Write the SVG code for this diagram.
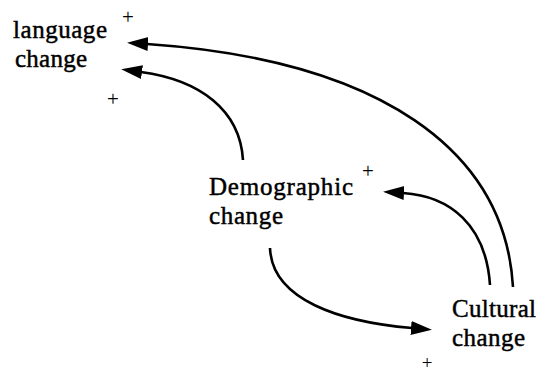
<svg xmlns="http://www.w3.org/2000/svg" width="537" height="374" viewBox="0 0 537 374">
<defs>
<style>
.lbl{font-family:"Liberation Serif","DejaVu Serif","Times New Roman",serif;font-size:25px;fill:#000;stroke:#000;stroke-width:0.45;}
.pl{font-family:"Liberation Serif","DejaVu Serif","Times New Roman",serif;font-size:21px;fill:#000;text-anchor:middle;}
.c{fill:none;stroke:#000;stroke-width:2.6;}
</style>
<marker id="ah" markerUnits="userSpaceOnUse" markerWidth="24" markerHeight="18" viewBox="0 -9 24 18" refX="1" refY="0" orient="auto">
<path d="M0,-7 L21,0 L0,7 Z" fill="#000"/>
</marker>
</defs>
<rect width="537" height="374" fill="#fff"/>
<g id="connectors">
<path class="c" d="M513,287 C505,150 380,60 147,44" marker-end="url(#ah)"/>
<path class="c" d="M243,160 C240,110 200,80 141,72" marker-end="url(#ah)"/>
<path class="c" d="M490,285 C486,225 450,196 403,193" marker-end="url(#ah)"/>
<path class="c" d="M270,248 C272,300 340,322 412,328" marker-end="url(#ah)"/>
</g>
<g id="language">
<text class="lbl" x="13" y="38" textLength="94" lengthAdjust="spacing">language</text>
<text class="lbl" x="15" y="67" textLength="72" lengthAdjust="spacing">change</text>
</g>
<g id="demographic">
<text class="lbl" x="209" y="195" textLength="144" lengthAdjust="spacing">Demographic</text>
<text class="lbl" x="209" y="224" textLength="74" lengthAdjust="spacing">change</text>
</g>
<g id="cultural">
<text class="lbl" x="452" y="317" textLength="84" lengthAdjust="spacing">Cultural</text>
<text class="lbl" x="452" y="346" textLength="73" lengthAdjust="spacing">change</text>
</g>
<g id="signs">
<text class="pl" x="128" y="24">+</text>
<text class="pl" x="113" y="106">+</text>
<text class="pl" x="368" y="178">+</text>
<text class="pl" x="427" y="369" style="font-size:19px">+</text>
</g>
</svg>
